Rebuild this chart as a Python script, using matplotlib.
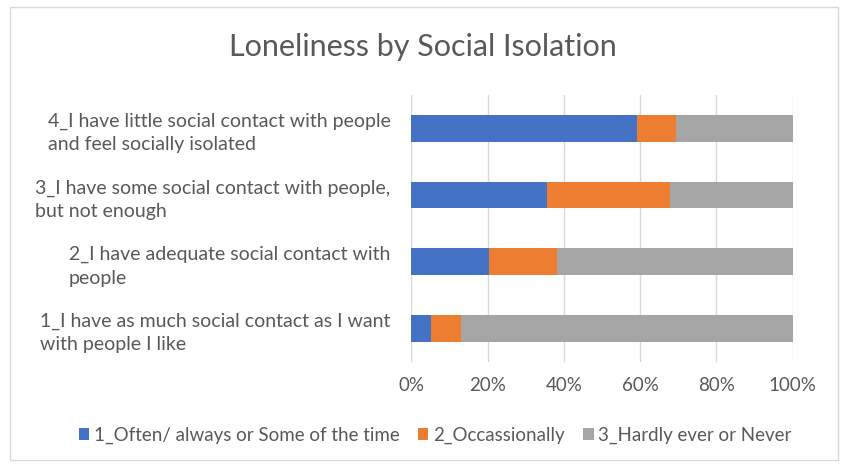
import numpy as np
import matplotlib.pyplot as plt
from matplotlib.patches import Rectangle

# data (percent), bottom category first
categories = [
    "1_I have as much social contact as I want\nwith people I like",
    "2_I have adequate social contact with\npeople",
    "3_I have some social contact with people,\nbut not enough",
    "4_I have little social contact with people\nand feel socially isolated",
]
often = [5.3, 20.4, 35.5, 59.3]
occasionally = [7.7, 17.7, 32.4, 10.1]
hardly = [87.0, 61.9, 32.1, 30.6]
series_names = ["1_Often/ always or Some of the time", "2_Occassionally",
                "3_Hardly ever or Never"]
colors = ["#4472C4", "#ED7D31", "#A5A5A5"]

plt.rcParams['font.family'] = ['Lato', 'DejaVu Sans']
text_col = "#595959"

fig = plt.figure(figsize=(8.45, 4.65), dpi=100)
ax = fig.add_axes([0.4867, 0.222, 0.4513, 0.5737])

y = np.arange(len(categories))
left = np.zeros(len(categories))
for vals, name, c in zip([often, occasionally, hardly], series_names, colors):
    ax.barh(y, vals, left=left, height=0.4, color=c, label=name, zorder=3)
    left = left + np.array(vals)

ax.set_xlim(0, 100)
ax.set_ylim(-0.5, len(categories) - 0.5)
ax.set_xticks(np.arange(0, 101, 20))
ax.set_xticklabels([f"{v}%" for v in range(0, 101, 20)])
ax.set_yticks(y)
ax.set_yticklabels(categories, ha="right", multialignment="left", linespacing=1.45)
ax.grid(axis="x", color="#D9D9D9", linewidth=1, zorder=0)
for s in ax.spines.values():
    s.set_visible(False)
ax.tick_params(axis="both", length=0, colors=text_col, labelsize=13.5)
ax.tick_params(axis="y", pad=15, labelsize=14)
ax.tick_params(axis="x", pad=11)

fig.text(0.5, 0.898, "Loneliness by Social Isolation", ha="center", va="center",
         fontsize=22, color=text_col)

handles, labels = ax.get_legend_handles_labels()
leg = fig.legend(handles, labels, loc="center", bbox_to_anchor=(0.515, 0.064),
                 ncol=3, frameon=False, fontsize=13.5, handlelength=0.55,
                 handleheight=0.55, handletextpad=0.25, columnspacing=1.0)
for t in leg.get_texts():
    t.set_color(text_col)

fig.patches.append(Rectangle((0.012, 0.01), 0.98, 0.975, transform=fig.transFigure,
                             fill=False, edgecolor="#D9D9D9", linewidth=1))

fig.savefig("out.png", dpi=100)
